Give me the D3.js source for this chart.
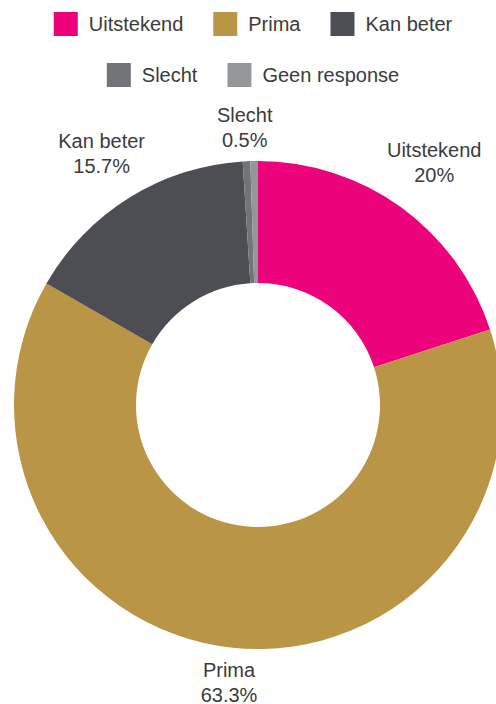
<!DOCTYPE html>
<html>
<head>
<meta charset="utf-8">
<script src="https://cdn.jsdelivr.net/npm/d3@7"></script>
<style>
  html, body { margin: 0; padding: 0; background: #fff; }
  svg { display: block; font-family: "Liberation Sans", Arial, sans-serif; }
</style>
</head>
<body>
<svg id="chart" width="496" height="704"></svg>
<script>
const categories = ["Uitstekend", "Prima", "Kan beter", "Slecht", "Geen response"];
const values = [20, 63.3, 15.7, 0.5, 0.5];
const valueLabels = ["20%", "63.3%", "15.7%", "0.5%", "0.5%"];
const colors = ["#EC037B", "#B99545", "#4D4E53", "#737478", "#94979A"];

const W = 496, H = 704;
const svg = d3.select("#chart");
const textColor = "#3b3b3b";
const fontSize = 20;

// ---- Legend ----
const legend = svg.append("g").attr("class", "legend");
const boxSize = 24, boxGap = 11, itemGap = 30, rowH = 51, legendTop = 12, maxRowW = 470;
const items = categories.map((c, i) => {
  const g = legend.append("g");
  g.append("rect").attr("width", boxSize).attr("height", boxSize)
    .attr("fill", colors[i]);
  const t = g.append("text").attr("x", boxSize + boxGap).attr("y", boxSize / 2)
    .attr("dy", "0.35em").attr("font-size", fontSize).attr("fill", textColor).text(c);
  const w = boxSize + boxGap + t.node().getComputedTextLength();
  return { g, w };
});
const rows = [];
let cur = [], curW = 0;
items.forEach(it => {
  const add = cur.length ? itemGap + it.w : it.w;
  if (cur.length && curW + add > maxRowW) { rows.push({ items: cur, w: curW }); cur = [it]; curW = it.w; }
  else { cur.push(it); curW += add; }
});
if (cur.length) rows.push({ items: cur, w: curW });
rows.forEach((row, r) => {
  let x = (W + 10 - row.w) / 2;
  row.items.forEach(it => {
    it.g.attr("transform", `translate(${x},${legendTop + r * rowH})`);
    x += it.w + itemGap;
  });
});

// ---- Donut ----
const cx = 258, cy = 405, R = 244, r0 = 122;
const pie = d3.pie().sort(null).value(d => d.v);
const data = pie(values.map((v, i) => ({ v, i })));
const arc = d3.arc().innerRadius(r0).outerRadius(R);
const g = svg.append("g").attr("transform", `translate(${cx},${cy})`);
g.selectAll("path").data(data).join("path")
  .attr("d", arc).attr("fill", d => colors[d.data.i]);

// ---- Labels ----
const gap = 9;
const placed = [];
data.forEach(d => {
  const i = d.data.i;
  const a = (d.startAngle + d.endAngle) / 2;
  const sx = Math.sin(a), sy = -Math.cos(a);
  const lg = g.append("g");
  const t = lg.append("text").attr("text-anchor", "middle")
    .attr("font-size", fontSize).attr("fill", textColor);
  t.append("tspan").attr("x", 0).attr("dy", 0).text(categories[i]);
  t.append("tspan").attr("x", 0).attr("dy", 25).text(valueLabels[i]);
  const bb = lg.node().getBBox();
  const w = bb.width, h = bb.height;
  const dist = R + gap + Math.abs(sx) * w / 2 + Math.abs(sy) * h / 2;
  const px = dist * sx, py = dist * sy;
  const tx = px - (bb.x + w / 2), ty = py - (bb.y + h / 2);
  lg.attr("transform", `translate(${tx},${ty})`);
  const box = { x0: px - w / 2, x1: px + w / 2, y0: py - h / 2, y1: py + h / 2 };
  const overlap = placed.some(b => !(box.x1 < b.x0 || box.x0 > b.x1 || box.y1 < b.y0 || box.y0 > b.y1));
  if (overlap) lg.remove(); else placed.push(box);
});
</script>
</body>
</html>
